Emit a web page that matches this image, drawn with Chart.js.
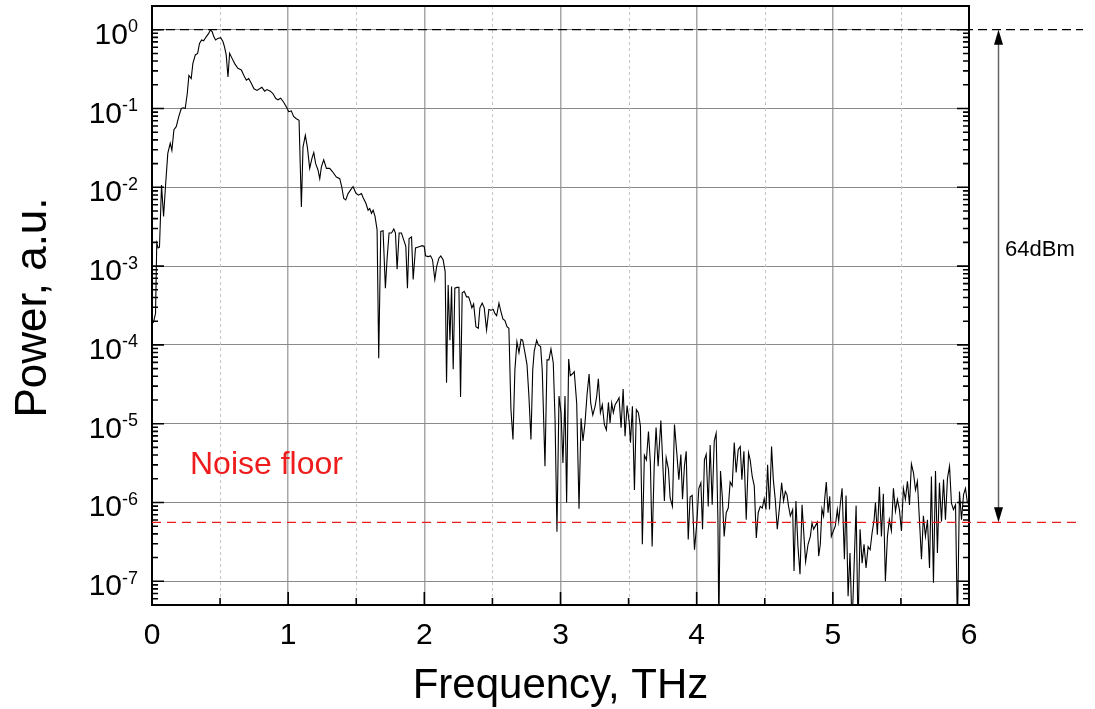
<!DOCTYPE html>
<html><head><meta charset="utf-8">
<script src="https://cdn.jsdelivr.net/npm/chart.js@4.4.0/dist/chart.umd.min.js"></script>
<style>html,body{margin:0;padding:0;background:#fff;}#wrap{width:1095px;height:709px;position:relative;}canvas{display:block;}</style>
</head><body><div id="wrap"><canvas id="c" width="1095" height="709"></canvas></div>
<script>
// ---- data ----
const frequencyTHz = [
0.010,0.026,0.035,0.045,0.055,0.070,0.085,0.099,0.116,0.134,0.146,0.161,0.178,0.197,0.215,0.232,0.244,0.259,0.271,0.288,
0.300,0.318,0.335,0.349,0.364,0.379,0.398,0.415,0.430,0.443,0.452,0.467,0.484,0.504,0.521,0.533,0.545,0.558,0.570,0.590,
0.607,0.631,0.656,0.675,0.693,0.710,0.729,0.749,0.771,0.790,0.807,0.827,0.844,0.869,0.888,0.908,0.925,0.945,0.967,0.987,
1.004,1.023,1.040,1.060,1.080,1.097,1.109,1.126,1.141,1.158,1.175,1.188,1.202,1.219,1.232,1.244,1.261,1.281,1.305,1.325,
1.354,1.379,1.393,1.408,1.423,1.440,1.460,1.477,1.496,1.516,1.538,1.550,1.570,1.587,1.599,1.612,1.624,1.638,1.653,1.665,
1.680,1.697,1.714,1.726,1.741,1.759,1.776,1.788,1.800,1.815,1.832,1.849,1.864,1.876,1.888,1.906,1.918,1.935,1.950,1.967,
1.984,1.999,2.009,2.028,2.046,2.060,2.077,2.090,2.107,2.121,2.138,2.153,2.163,2.175,2.188,2.200,2.212,2.224,2.239,2.254,
2.266,2.278,2.293,2.310,2.325,2.337,2.349,2.362,2.379,2.396,2.408,2.425,2.440,2.457,2.474,2.489,2.506,2.518,2.531,2.548,
2.563,2.577,2.592,2.607,2.621,2.636,2.651,2.665,2.680,2.695,2.710,2.722,2.739,2.754,2.768,2.783,2.796,2.807,2.825,2.837,
2.854,2.866,2.886,2.901,2.915,2.930,2.947,2.960,2.974,2.989,3.004,3.018,3.033,3.045,3.060,3.072,3.087,3.101,3.119,3.136,
3.151,3.165,3.180,3.195,3.210,3.222,3.237,3.254,3.266,3.278,3.293,3.307,3.322,3.337,3.352,3.364,3.376,3.388,3.401,3.415,
3.430,3.445,3.460,3.474,3.489,3.504,3.514,3.528,3.543,3.557,3.572,3.587,3.601,3.616,3.631,3.646,3.660,3.673,3.688,3.702,
3.717,3.737,3.751,3.763,3.776,3.793,3.805,3.822,3.837,3.854,3.869,3.884,3.896,3.910,3.923,3.938,3.952,3.967,3.984,4.001,
4.016,4.031,4.043,4.057,4.070,4.085,4.099,4.114,4.129,4.143,4.156,4.163,4.175,4.188,4.202,4.217,4.232,4.246,4.261,4.276,
4.290,4.305,4.320,4.332,4.347,4.364,4.381,4.393,4.408,4.423,4.438,4.452,4.467,4.482,4.496,4.509,4.521,4.535,4.550,4.563,
4.577,4.592,4.609,4.624,4.638,4.651,4.663,4.675,4.688,4.705,4.715,4.729,4.744,4.759,4.774,4.788,4.800,4.818,4.835,4.847,
4.859,4.871,4.886,4.896,4.908,4.920,4.932,4.940,4.952,4.965,4.977,4.989,5.004,5.018,5.033,5.043,5.053,5.068,5.085,5.097,
5.112,5.126,5.141,5.156,5.171,5.185,5.200,5.215,5.229,5.244,5.259,5.274,5.288,5.303,5.313,5.327,5.342,5.357,5.371,5.386,
5.401,5.415,5.430,5.445,5.460,5.474,5.489,5.504,5.518,5.533,5.548,5.563,5.577,5.592,5.607,5.621,5.636,5.651,5.665,5.680,
5.695,5.710,5.724,5.739,5.754,5.768,5.783,5.798,5.813,5.827,5.842,5.857,5.871,5.886,5.901,5.915,5.930,5.945,5.960,5.974,
5.989
];
// power relative to the peak, in dB (10*log10 of the a.u. value)
const powerDb = [
-37.2,-36.0,-27.1,-27.7,-27.6,-19.7,-23.7,-19.9,-15.7,-14.4,-15.3,-12.7,-12.3,-11.0,-10.0,-9.9,-10.0,-8.1,-5.8,-6.2,
-4.3,-3.2,-3.0,-1.75,-1.3,-1.4,-0.9,-0.5,0.0,-0.3,-0.8,-1.3,-1.1,-1.0,-1.5,-2.2,-3.2,-6.0,-3.0,-3.7,
-4.3,-4.9,-5.1,-5.8,-6.4,-6.2,-6.8,-7.5,-7.7,-7.5,-7.3,-7.8,-7.6,-7.8,-8.1,-8.7,-8.9,-8.7,-9.2,-9.8,
-10.4,-10.3,-11.0,-11.3,-11.5,-22.5,-14.9,-13.4,-14.9,-17.6,-16.3,-15.6,-17.0,-17.8,-18.9,-17.4,-16.5,-17.6,-17.6,-18.0,
-18.7,-18.9,-19.9,-21.4,-21.6,-20.8,-20.3,-19.9,-20.7,-21.0,-20.8,-21.3,-22.0,-22.9,-22.7,-23.3,-22.9,-23.7,-25.4,-41.7,
-25.6,-25.5,-32.8,-29.2,-25.8,-25.8,-25.3,-25.8,-30.4,-25.8,-25.8,-26.7,-27.5,-32.8,-26.5,-26.3,-31.7,-27.7,-27.6,-27.5,
-27.4,-27.5,-28.7,-28.8,-28.7,-29.2,-31.7,-30.1,-29.0,-28.7,-29.2,-30.7,-44.8,-32.4,-39.4,-32.6,-43.1,-32.8,-32.7,-32.7,
-46.6,-33.4,-33.2,-33.9,-33.9,-34.5,-35.3,-34.8,-37.7,-37.9,-35.3,-34.7,-35.3,-38.1,-35.5,-35.6,-35.5,-36.0,-36.3,-34.7,
-35.8,-36.7,-36.9,-37.7,-37.9,-48.2,-52.0,-43.2,-39.6,-41.0,-39.3,-39.4,-41.0,-42.5,-46.5,-52.0,-43.2,-40.8,-39.4,-40.0,
-40.2,-43.2,-55.4,-41.9,-41.9,-40.5,-42.3,-49.5,-63.7,-46.5,-48.6,-55.0,-46.5,-60.0,-41.8,-43.9,-43.7,-43.4,-47.4,-60.8,
-49.3,-52.2,-49.9,-46.3,-43.7,-47.4,-48.9,-47.8,-46.5,-44.3,-48.6,-47.6,-50.1,-50.8,-47.3,-49.9,-47.4,-48.6,-47.6,-47.2,
-46.7,-50.5,-45.6,-51.6,-47.7,-49.7,-52.4,-47.8,-58.4,-48.2,-48.6,-50.3,-65.3,-54.0,-54.6,-51.0,-55.0,-65.6,-55.4,-50.5,
-55.4,-49.6,-55.0,-59.8,-54.3,-55.8,-59.4,-60.5,-50.1,-53.7,-57.1,-53.9,-59.6,-55.4,-53.5,-64.7,-59.3,-59.1,-66.0,-62.6,
-58.2,-57.5,-63.4,-54.6,-53.9,-60.5,-52.7,-60.3,-52.2,-51.2,-62.2,-76.0,-56.0,-59.2,-64.3,-61.3,-60.7,-57.4,-57.9,-52.4,
-56.2,-53.3,-52.9,-57.1,-53.5,-62.2,-53.7,-54.6,-56.7,-57.9,-64.5,-61.3,-60.5,-60.7,-59.5,-60.9,-55.2,-60.9,-52.9,-57.1,
-59.6,-63.4,-60.5,-57.5,-59.8,-58.6,-59.0,-60.5,-61.7,-60.9,-68.7,-59.8,-65.6,-69.1,-60.3,-64.3,-67.5,-65.3,-64.3,-62.6,
-63.4,-63.0,-62.5,-66.8,-65.3,-60.8,-61.7,-59.6,-57.4,-61.3,-59.2,-64.3,-63.6,-63.0,-60.9,-62.4,-60.5,-58.2,-67.2,-59.1,
-71.9,-66.4,-76.0,-68.1,-60.4,-76.0,-63.4,-67.7,-65.3,-68.3,-65.6,-66.0,-63.9,-62.2,-60.0,-64.1,-58.0,-64.3,-58.9,-70.0,
-64.3,-62.2,-63.6,-58.2,-61.1,-59.6,-60.9,-63.6,-58.2,-59.6,-57.3,-60.3,-55.1,-56.2,-58.4,-57.3,-62.2,-67.2,-61.7,-64.3,
-62.2,-68.3,-56.7,-70.2,-56.0,-66.4,-57.5,-62.4,-57.1,-62.2,-56.9,-55.4,-60.1,-60.9,-60.3,-76.0,-58.6,-62.2,-59.0,-58.2,
-60.1
];
const xTickLabels = [0, 1, 2, 3, 4, 5, 6];
const xMinorTicks = [0.5, 1.5, 2.5, 3.5, 4.5, 5.5];
const yDecadeExponents = [0, -1, -2, -3, -4, -5, -6, -7];
const yMinorMultiples = [2, 3, 4, 5, 6, 7, 8, 9];
const peakLevel = 1;
const noiseFloorLevel = 5.6e-7;
const xTitle = 'Frequency, THz';
const yTitle = 'Power, a.u.';
const noiseLabel = 'Noise floor';
const spanLabel = '64dBm';

const FONT = '"Liberation Sans", Arial, Helvetica, sans-serif';
const points = frequencyTHz.map((f, i) => ({x: f, y: Math.pow(10, powerDb[i] / 10)}));
const isDecade = v => Math.abs(Math.log10(v) - Math.round(Math.log10(v))) < 1e-6;

const decor = {
  id: 'decor',
  beforeDatasetsDraw(chart) {
    const {ctx, chartArea: a, scales: {x}} = chart;
    ctx.save();
    ctx.strokeStyle = '#c4c4c4'; ctx.lineWidth = 1; ctx.setLineDash([3, 3]);
    xMinorTicks.forEach(v => {
      const px = Math.round(x.getPixelForValue(v)) + 0.5;
      ctx.beginPath(); ctx.moveTo(px, a.top); ctx.lineTo(px, a.bottom); ctx.stroke();
    });
    ctx.restore();
  },
  afterDraw(chart) {
    const {ctx, chartArea: a, scales: {x, y}} = chart;
    ctx.save();
    // frame
    ctx.strokeStyle = '#000'; ctx.lineWidth = 2; ctx.setLineDash([]);
    ctx.strokeRect(a.left, a.top, a.right - a.left, a.bottom - a.top);
    // inward y ticks on both sides
    ctx.lineWidth = 1.6;
    const yMin = y.min, yMax = y.max;
    [-8, ...yDecadeExponents].forEach(e => {
      [1, ...yMinorMultiples].forEach(m => {
        const v = m * Math.pow(10, e);
        if (v < yMin || v > yMax) return;
        const py = y.getPixelForValue(v);
        const len = m === 1 ? 12 : 6;
        ctx.beginPath();
        ctx.moveTo(a.left, py); ctx.lineTo(a.left + len, py);
        ctx.moveTo(a.right, py); ctx.lineTo(a.right - len, py);
        ctx.stroke();
      });
    });
    // inward x ticks at bottom
    xTickLabels.concat(xMinorTicks).forEach(v => {
      const px = x.getPixelForValue(v);
      const len = Number.isInteger(v) ? 13 : 7;
      ctx.beginPath(); ctx.moveTo(px, a.bottom); ctx.lineTo(px, a.bottom - len); ctx.stroke();
    });
    // reference lines
    const yPeak = y.getPixelForValue(peakLevel);
    const yNoise = y.getPixelForValue(noiseFloorLevel);
    ctx.lineWidth = 1.2;
    ctx.strokeStyle = '#000'; ctx.setLineDash([9, 5]);
    ctx.beginPath(); ctx.moveTo(a.left, yPeak); ctx.lineTo(1083, yPeak); ctx.stroke();
    ctx.strokeStyle = '#ee1c1c'; ctx.setLineDash([9, 6]);
    ctx.beginPath(); ctx.moveTo(a.left, yNoise); ctx.lineTo(1077, yNoise); ctx.stroke();
    // double arrow
    ctx.setLineDash([]);
    const ax = 998.5;
    ctx.strokeStyle = '#666'; ctx.lineWidth = 1.5;
    ctx.beginPath(); ctx.moveTo(ax, yPeak + 12); ctx.lineTo(ax, yNoise - 12); ctx.stroke();
    ctx.fillStyle = '#000';
    ctx.beginPath(); ctx.moveTo(ax, yPeak); ctx.lineTo(ax - 4.5, yPeak + 15); ctx.lineTo(ax + 4.5, yPeak + 15); ctx.closePath(); ctx.fill();
    ctx.beginPath(); ctx.moveTo(ax, yNoise); ctx.lineTo(ax - 4.5, yNoise - 15); ctx.lineTo(ax + 4.5, yNoise - 15); ctx.closePath(); ctx.fill();
    // y tick labels with superscripts
    ctx.fillStyle = '#000'; ctx.textBaseline = 'alphabetic';
    yDecadeExponents.forEach(e => {
      const py = y.getPixelForValue(Math.pow(10, e));
      const sup = String(e);
      ctx.font = '18px ' + FONT; ctx.textAlign = 'right';
      const supW = ctx.measureText(sup).width;
      ctx.fillText(sup, 138, py + 2.5);
      ctx.font = '30px ' + FONT;
      ctx.fillText('10', 138 - supW, py + 14);
    });
    // x tick labels
    ctx.font = '30px ' + FONT; ctx.textAlign = 'center';
    xTickLabels.forEach(v => ctx.fillText(String(v), x.getPixelForValue(v), 644));
    // axis titles
    ctx.font = '42px ' + FONT;
    ctx.fillText(xTitle, (a.left + a.right) / 2, 698);
    ctx.save(); ctx.translate(46, (a.top + a.bottom) / 2 + 2); ctx.rotate(-Math.PI / 2);
    ctx.font = '44px ' + FONT;
    ctx.fillText(yTitle, 0, 0); ctx.restore();
    // annotations
    ctx.fillStyle = '#ee1c1c'; ctx.font = '32px ' + FONT; ctx.textAlign = 'left';
    ctx.fillText(noiseLabel, 190, 474);
    ctx.fillStyle = '#000'; ctx.font = '22px ' + FONT;
    ctx.fillText(spanLabel, 1005, 256);
    ctx.restore();
  }
};

new Chart(document.getElementById('c'), {
  type: 'line',
  data: { datasets: [{ data: points, borderColor: '#000', borderWidth: 1.1, pointRadius: 0, tension: 0, fill: false }] },
  options: {
    responsive: false, animation: false, devicePixelRatio: 1,
    layout: { padding: { left: 0, top: 6, right: 126, bottom: 0 } },
    plugins: { legend: { display: false }, tooltip: { enabled: false } },
    scales: {
      x: {
        type: 'linear', min: 0, max: 6,
        ticks: { display: false, stepSize: 1 },
        grid: { drawTicks: false, color: c => (c.tick && c.tick.value > 0 && c.tick.value < 6) ? '#a8a8a8' : 'rgba(0,0,0,0)', lineWidth: 1.5 },
        border: { display: false },
        afterFit: s => { s.height = 104; }
      },
      y: {
        type: 'logarithmic', min: 5e-8, max: 2,
        ticks: { display: false },
        grid: { drawTicks: false, color: c => (c.tick && isDecade(c.tick.value)) ? '#8a8a8a' : 'rgba(0,0,0,0)', lineWidth: 1 },
        border: { display: false },
        afterFit: s => { s.width = 152; }
      }
    }
  },
  plugins: [decor]
});
</script>
</body></html>
